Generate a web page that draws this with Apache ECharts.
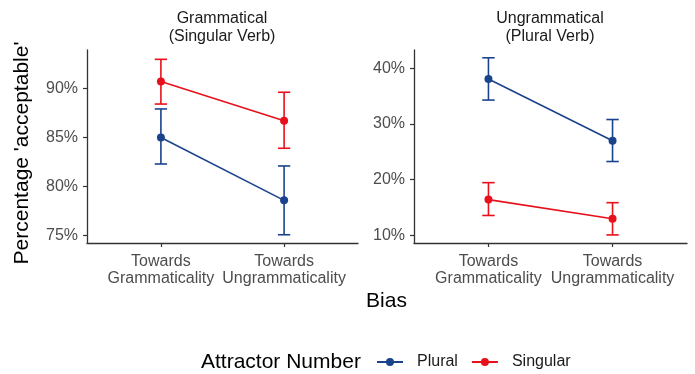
<!DOCTYPE html>
<html><head><meta charset="utf-8">
<script src="https://cdn.jsdelivr.net/npm/echarts@6/dist/echarts.min.js"></script>
<style>html,body{margin:0;padding:0;background:#fff}#c{width:695px;height:374px}</style>
</head><body><div id="c"></div>
<script>
var categories = ['Towards\nGrammaticality', 'Towards\nUngrammaticality'];
var panelTitles = ['Grammatical\n(Singular Verb)', 'Ungrammatical\n(Plural Verb)'];
var seriesNames = ['Plural', 'Singular'];
// Grammatical panel (percent)
var gramPlural = [85.0, 78.6];
var gramPluralLo = [82.3, 75.1];
var gramPluralHi = [87.9, 82.1];
var gramSingular = [90.7, 86.7];
var gramSingularLo = [88.4, 83.9];
var gramSingularHi = [92.95, 89.6];
// Ungrammatical panel (percent)
var ungPlural = [38.1, 27.0];
var ungPluralLo = [34.3, 23.25];
var ungPluralHi = [41.9, 30.8];
var ungSingular = [16.4, 12.95];
var ungSingularLo = [13.55, 10.05];
var ungSingularHi = [19.45, 15.85];
var gramTicks = [75, 80, 85, 90];
var ungTicks = [10, 20, 30, 40];

var colors = {Plural: '#1B438C', Singular: '#E8111B'};
var FONT = 'Liberation Sans, Arial, sans-serif';

function pts(vals) { return vals.map(function (v, i) { return [i + 1, v]; }); }
function ebData(lo, hi) { return lo.map(function (l, i) { return [i + 1, l, hi[i]]; }); }

function lineSeries(name, vals, idx) {
  return {
    type: 'line', name: name, xAxisIndex: idx, yAxisIndex: idx,
    data: pts(vals), symbol: 'circle', symbolSize: 8, z: 3,
    itemStyle: {color: colors[name]}, lineStyle: {color: colors[name], width: 1.6}
  };
}
function errSeries(name, lo, hi, idx) {
  return {
    type: 'custom', name: name, xAxisIndex: idx, yAxisIndex: idx, z: 2,
    itemStyle: {color: colors[name]},
    data: ebData(lo, hi),
    renderItem: function (params, api) {
      var x = api.value(0);
      var pLo = api.coord([x, api.value(1)]);
      var pHi = api.coord([x, api.value(2)]);
      var l = api.coord([x - 0.05, api.value(1)])[0];
      var r = api.coord([x + 0.05, api.value(1)])[0];
      var st = {stroke: colors[name], lineWidth: 1.6};
      return {type: 'group', children: [
        {type: 'line', shape: {x1: pLo[0], y1: pLo[1], x2: pHi[0], y2: pHi[1]}, style: st},
        {type: 'line', shape: {x1: l, y1: pLo[1], x2: r, y2: pLo[1]}, style: st},
        {type: 'line', shape: {x1: l, y1: pHi[1], x2: r, y2: pHi[1]}, style: st}
      ]};
    }
  };
}
function xAxis(idx) {
  return {
    type: 'value', gridIndex: idx, min: 0.4, max: 2.6,
    splitLine: {show: false},
    axisLine: {lineStyle: {color: '#333', width: 1.3}},
    axisTick: {customValues: [1, 2], length: 4, lineStyle: {color: '#333', width: 1.2}},
    axisLabel: {customValues: [1, 2], color: '#4d4d4d', fontSize: 16, fontFamily: FONT, lineHeight: 17, margin: 10,
      formatter: function (v) { return categories[Math.round(v) - 1] || ''; }}
  };
}
function yAxis(idx, min, max, ticks) {
  return {
    type: 'value', gridIndex: idx, min: min, max: max,
    splitLine: {show: false},
    axisLine: {show: true, lineStyle: {color: '#333', width: 1.3}},
    axisTick: {show: true, customValues: ticks, length: 4, lineStyle: {color: '#333', width: 1.2}},
    axisLabel: {customValues: ticks, color: '#4d4d4d', fontSize: 16, fontFamily: FONT, margin: 9,
      formatter: function (v) { return v + '%'; }}
  };
}
var legendIcon = 'path://M0,3.1L26,3.1L26,4.9L0,4.9Z M17,4A4,4,0,1,1,17,3.99Z';

var chart = echarts.init(document.getElementById('c'), null, {renderer: 'canvas'});
chart.setOption({
  animation: false,
  textStyle: {fontFamily: FONT},
  title: [
    {text: panelTitles[0], left: 222, top: 10, padding: 0, textAlign: 'center',
      textStyle: {fontSize: 16, fontWeight: 'normal', color: '#1a1a1a', lineHeight: 18, fontFamily: FONT}},
    {text: panelTitles[1], left: 550, top: 10, padding: 0, textAlign: 'center',
      textStyle: {fontSize: 16, fontWeight: 'normal', color: '#1a1a1a', lineHeight: 18, fontFamily: FONT}}
  ],
  graphic: [
    {type: 'text', x: 22, y: 153, rotation: Math.PI / 2, style: {text: "Percentage 'acceptable'", font: '21px ' + FONT, fill: '#000', textAlign: 'center', textVerticalAlign: 'middle'}},
    {type: 'text', x: 386.5, y: 301, style: {text: 'Bias', font: '21px ' + FONT, fill: '#000', textAlign: 'center', textVerticalAlign: 'middle'}},
    {type: 'text', x: 201, y: 362, style: {text: 'Attractor Number', font: '21px ' + FONT, fill: '#000', textVerticalAlign: 'middle'}}
  ],
  legend: {
    data: seriesNames.map(function (n) { return {name: n, icon: legendIcon, itemStyle: {color: colors[n]}}; }),
    left: 377, top: 354, padding: 0, itemWidth: 26, itemHeight: 8, itemGap: 14,
    textStyle: {fontSize: 16, color: '#1a1a1a', fontFamily: FONT, padding: [0, 0, 0, 9]}
  },
  grid: [
    {left: 87, top: 50, width: 271, height: 193},
    {left: 414, top: 50, width: 273, height: 193}
  ],
  xAxis: [xAxis(0), xAxis(1)],
  yAxis: [yAxis(0, 74.26, 93.9, gramTicks), yAxis(1, 8.6, 43.3, ungTicks)],
  series: [
    errSeries('Plural', gramPluralLo, gramPluralHi, 0),
    errSeries('Singular', gramSingularLo, gramSingularHi, 0),
    lineSeries('Plural', gramPlural, 0),
    lineSeries('Singular', gramSingular, 0),
    errSeries('Plural', ungPluralLo, ungPluralHi, 1),
    errSeries('Singular', ungSingularLo, ungSingularHi, 1),
    lineSeries('Plural', ungPlural, 1),
    lineSeries('Singular', ungSingular, 1)
  ]
});
</script></body></html>
